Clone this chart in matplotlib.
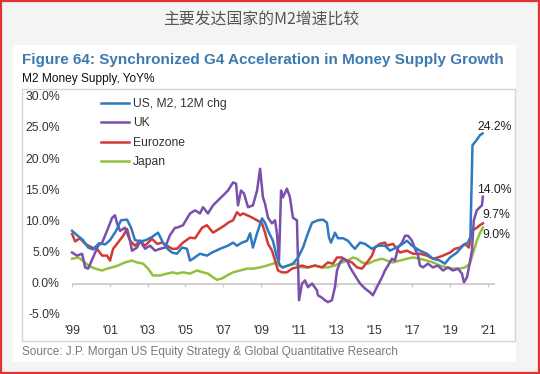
import matplotlib
matplotlib.use("Agg")
from matplotlib import pyplot as plt
from matplotlib.patches import Rectangle

plt.rcParams['font.family'] = ['Liberation Sans', 'DejaVu Sans']

# ---- data (decimal years, YoY %) ----
us_years = [1999.00, 1999.26, 1999.58, 1999.85, 2000.11, 2000.43, 2000.75, 2001.01, 2001.33, 2001.59,
            2001.91, 2002.12, 2002.33, 2002.65, 2002.91, 2003.23, 2003.55, 2003.81, 2004.08, 2004.29,
            2004.55, 2004.82, 2005.08, 2005.24, 2005.40, 2005.77, 2006.14, 2006.41, 2006.83, 2007.25,
            2007.52, 2007.73, 2007.99, 2008.26, 2008.42, 2008.57, 2008.79, 2009.05, 2009.21, 2009.37,
            2009.63, 2009.84, 2010.00, 2010.16, 2010.43, 2010.69, 2010.96, 2011.22, 2011.48, 2011.70,
            2012.01, 2012.28, 2012.49, 2012.59, 2012.70, 2012.81, 2012.91, 2013.07, 2013.34, 2013.60,
            2013.81, 2013.97, 2014.24, 2014.50, 2014.87, 2015.19, 2015.56, 2015.82, 2016.35, 2016.72,
            2016.99, 2017.41, 2017.78, 2018.10, 2018.47, 2018.73, 2019.00, 2019.37, 2019.68, 2019.95,
            2020.08, 2020.19, 2020.40, 2020.58, 2020.72]
us_vals = [8.5, 7.8, 7.0, 5.8, 5.5, 6.5, 6.3, 7.0, 8.5, 10.2,
           10.3, 9.0, 7.0, 6.8, 7.0, 7.5, 8.2, 6.6, 5.5, 5.0,
           4.8, 5.8, 5.6, 3.7, 4.0, 4.8, 4.5, 5.0, 5.6, 6.1,
           6.6, 6.1, 6.6, 6.9, 8.1, 5.8, 8.1, 10.5, 9.8, 8.5,
           6.9, 4.2, 2.9, 2.6, 2.9, 3.2, 4.2, 5.8, 8.1, 9.8,
           10.2, 10.3, 9.8, 7.5, 6.6, 7.4, 8.2, 7.3, 7.3, 6.9,
           6.1, 5.6, 6.6, 6.4, 5.6, 6.1, 6.1, 5.3, 6.1, 6.9,
           6.1, 5.3, 4.8, 4.0, 3.7, 3.2, 4.2, 5.0, 6.1, 6.6,
           7.5, 22.3, 23.1, 23.9, 24.2]

uk_years = [1999.00, 1999.26, 1999.53, 1999.69, 1999.85, 2000.11, 2000.38, 2000.59, 2000.85, 2001.12,
            2001.27, 2001.38, 2001.54, 2001.80, 2002.07, 2002.17, 2002.44, 2002.60, 2002.86, 2003.13,
            2003.39, 2003.66, 2003.92, 2004.18, 2004.45, 2004.55, 2004.87, 2005.24, 2005.51, 2005.77,
            2005.93, 2006.19, 2006.46, 2006.72, 2006.99, 2007.25, 2007.52, 2007.68, 2007.78, 2007.94,
            2008.10, 2008.31, 2008.57, 2008.79, 2008.95, 2009.10, 2009.21, 2009.37, 2009.58, 2009.74,
            2009.84, 2009.95, 2010.06, 2010.16, 2010.37, 2010.53, 2010.69, 2010.90, 2011.01, 2011.17,
            2011.33, 2011.48, 2011.70, 2011.96, 2012.01, 2012.23, 2012.38, 2012.54, 2012.75, 2012.91,
            2013.02, 2013.18, 2013.34, 2013.55, 2013.71, 2013.97, 2014.24, 2014.50, 2014.76, 2014.92,
            2015.13, 2015.40, 2015.56, 2015.72, 2015.93, 2016.09, 2016.25, 2016.46, 2016.62, 2016.78,
            2016.99, 2017.15, 2017.31, 2017.41, 2017.57, 2017.83, 2018.10, 2018.36, 2018.63, 2018.89,
            2019.16, 2019.42, 2019.63, 2019.74, 2019.90, 2020.00, 2020.16, 2020.26, 2020.42, 2020.58,
            2020.69, 2020.74]
uk_vals = [5.0, 4.5, 4.8, 2.6, 2.4, 4.2, 6.1, 6.6, 8.5, 10.6,
           11.0, 9.7, 8.5, 9.0, 6.9, 5.3, 5.8, 6.9, 5.6, 6.1,
           5.3, 5.6, 5.8, 7.8, 9.0, 9.0, 9.4, 11.3, 11.8, 11.3,
           12.3, 11.3, 12.6, 13.4, 14.2, 15.0, 16.3, 16.1, 12.6, 15.0,
           14.5, 12.3, 12.6, 15.0, 18.5, 13.9, 12.9, 10.6, 9.7, 10.2,
           8.1, 3.7, 15.0, 13.9, 15.3, 13.9, 10.6, 10.2, -2.7, 0.0,
           0.5, -0.6, 0.0, -1.1, -1.9, -2.3, -2.7, -3.0, -2.7, -0.6,
           2.1, 3.4, 4.0, 3.7, 2.6, 1.3, 0.0, -0.8, -1.4, -1.9,
           -0.6, 1.0, 2.1, 2.9, 4.0, 3.7, 5.8, 6.6, 7.7, 7.7,
           6.9, 5.6, 4.5, 2.9, 2.6, 3.2, 2.6, 2.9, 2.1, 2.6,
           2.1, 2.4, 1.6, 0.2, 1.0, 2.6, 5.3, 10.2, 11.8, 12.3,
           12.6, 14.0]

ez_years = [1999.00, 1999.16, 1999.42, 1999.69, 2000.06, 2000.32, 2000.59, 2000.85, 2001.01, 2001.17,
            2001.43, 2001.70, 2001.91, 2002.07, 2002.33, 2002.60, 2002.86, 2003.23, 2003.50, 2003.76,
            2004.03, 2004.29, 2004.55, 2004.87, 2005.24, 2005.51, 2005.88, 2006.14, 2006.46, 2006.83,
            2007.09, 2007.25, 2007.52, 2007.73, 2007.89, 2008.05, 2008.42, 2008.79, 2009.05, 2009.21,
            2009.37, 2009.58, 2009.74, 2009.90, 2010.11, 2010.37, 2010.64, 2010.90, 2011.17, 2011.48,
            2011.85, 2012.23, 2012.54, 2012.81, 2013.02, 2013.28, 2013.55, 2013.81, 2014.08, 2014.34,
            2014.61, 2014.87, 2015.03, 2015.29, 2015.56, 2015.66, 2015.98, 2016.35, 2016.72, 2017.04,
            2017.41, 2017.78, 2018.10, 2018.36, 2018.63, 2019.00, 2019.26, 2019.53, 2019.79, 2020.00,
            2020.16, 2020.42, 2020.58, 2020.74]
ez_vals = [8.0, 6.8, 7.3, 6.4, 5.8, 5.6, 4.5, 4.5, 3.7, 5.6,
           6.6, 7.7, 8.8, 6.9, 6.1, 6.9, 6.1, 7.2, 6.4, 6.6,
           6.1, 5.6, 5.6, 6.6, 7.4, 7.3, 9.0, 9.4, 8.2, 8.9,
           9.4, 9.8, 10.2, 11.5, 11.0, 11.3, 10.8, 10.2, 9.7, 8.2,
           6.4, 5.3, 3.7, 2.1, 1.8, 1.8, 2.4, 2.6, 2.9, 2.6,
           2.9, 2.6, 3.4, 3.2, 4.2, 4.2, 3.7, 3.4, 2.6, 2.4,
           3.4, 4.5, 5.8, 6.4, 6.6, 6.1, 6.4, 5.0, 5.3, 4.8,
           4.8, 4.5, 4.0, 4.2, 4.5, 5.0, 5.6, 5.8, 6.4, 5.8,
           8.5, 9.0, 9.4, 9.7]

jp_years = [1999.00, 1999.32, 1999.58, 1999.85, 2000.22, 2000.59, 2000.85, 2001.12, 2001.43, 2001.80,
            2002.17, 2002.44, 2002.76, 2003.02, 2003.28, 2003.66, 2004.03, 2004.34, 2004.55, 2004.87,
            2005.24, 2005.61, 2005.93, 2006.19, 2006.46, 2006.67, 2006.93, 2007.20, 2007.52, 2007.89,
            2008.26, 2008.57, 2008.95, 2009.32, 2009.63, 2009.84, 2010.11, 2010.43, 2010.80, 2011.17,
            2011.48, 2011.85, 2012.23, 2012.54, 2012.91, 2013.28, 2013.60, 2013.87, 2014.08, 2014.34,
            2014.66, 2015.03, 2015.40, 2015.66, 2015.98, 2016.35, 2016.72, 2017.04, 2017.41, 2017.78,
            2018.10, 2018.47, 2018.84, 2019.16, 2019.53, 2019.79, 2020.05, 2020.21, 2020.42, 2020.58,
            2020.74]
jp_vals = [4.0, 4.2, 3.7, 2.9, 2.4, 2.1, 2.4, 2.6, 2.9, 3.4,
           3.7, 3.4, 3.2, 2.4, 1.3, 1.3, 1.6, 1.8, 1.6, 1.8,
           1.6, 2.1, 1.8, 1.6, 1.0, 0.6, 0.8, 1.3, 1.8, 2.1,
           2.4, 2.4, 2.6, 2.9, 3.2, 3.4, 2.6, 2.9, 3.2, 2.6,
           2.6, 2.9, 2.6, 2.6, 2.9, 3.4, 3.7, 4.2, 4.0, 3.4,
           3.2, 3.7, 4.0, 3.7, 3.4, 3.7, 4.0, 4.2, 4.0, 3.7,
           3.4, 2.9, 2.6, 2.4, 2.4, 2.6, 3.2, 4.8, 6.9, 8.1,
           9.0]

series_names = ['US, M2, 12M chg', 'UK', 'Eurozone', 'Japan']
series_colors = ['#2f78c2', '#7a4fae', '#d23a36', '#93c03c']
end_labels = ['24.2%', '14.0%', '9.7%', '9.0%']
end_label_pos = [(2020.43, 25.2), (2020.43, 15.1), (2020.69, 11.0), (2020.69, 7.8)]

tick_years = [1999, 2001, 2003, 2005, 2007, 2009, 2011, 2013, 2015, 2017, 2019, 2021]
tick_labels = ["'99", "'01", "'03", "'05", "'07", "'09", "'11", "'13", "'15", "'17", "'19", "'21"]
y_ticks = [30, 25, 20, 15, 10, 5, 0, -5]

# ---- figure ----
fig = plt.figure(figsize=(5.4, 3.74), dpi=100, facecolor='#f4f4f4')
W, H = 540.0, 374.0

# white panel (behind the axes)
fig.patches.append(Rectangle((13 / W, 1 - 362 / H), (516 - 13) / W, (362 - 45) / H,
                             transform=fig.transFigure, facecolor='white', edgecolor='none', zorder=-5))
# red outer border
fig.patches.append(Rectangle((0.002, 0.003), 0.996, 0.994, transform=fig.transFigure,
                             facecolor='none', edgecolor='#e03434', lw=1.6, zorder=5))

fig.text(261 / W, 1 - 19 / H, '主要发达国家的M2增速比较', ha='center', va='center',
         fontsize=11.4, color='#555555', family=['Noto Sans CJK SC', 'DejaVu Sans'])
fig.text(22 / W, 1 - 60 / H, 'Figure 64: Synchronized G4 Acceleration in Money Supply Growth',
         ha='left', va='center', fontsize=11, fontweight='bold', color='#3b7ab0')
fig.text(22 / W, 1 - 79 / H, 'M2 Money Supply, YoY%', ha='left', va='center',
         fontsize=8.6, color='#111111')
fig.text(22 / W, 1 - 352 / H,
         'Source: J.P. Morgan US Equity Strategy & Global Quantitative Research',
         ha='left', va='center', fontsize=8.5, color='#7a7a7a')

ax = fig.add_axes([22 / W, 1 - 341 / H, 493 / W, 252 / H])
ax.set_xlim(1996.35, 2022.44)
ax.set_ylim(-9.27, 31.37)
ax.set_facecolor('white')
for sp in ax.spines.values():
    sp.set_color('#d6d6d6')
    sp.set_linewidth(1.0)
ax.set_xticks([])
ax.set_yticks([])

# zero axis with small ticks
ax.hlines(0, tick_years[0], 2021.38, color='#cccccc', lw=1.3, zorder=1)
ax.vlines(tick_years, -0.6, 0, color='#cccccc', lw=1.0, zorder=1)

all_x = [us_years, uk_years, ez_years, jp_years]
all_y = [us_vals, uk_vals, ez_vals, jp_vals]
lines = {}
for i in [3, 2, 1, 0]:
    ln, = ax.plot(all_x[i], all_y[i], color=series_colors[i], lw=1.8,
                  solid_joinstyle='round', zorder=3)
    lines[i] = ln

leg = ax.legend([lines[i] for i in range(4)], series_names, loc='upper left',
                bbox_to_anchor=((101 - 22) / 493.0, (341 - 98) / 252.0), frameon=False,
                fontsize=8.7, handlelength=2.3, handletextpad=0.35, labelspacing=0.62,
                borderpad=0, borderaxespad=0)
for t in leg.get_texts():
    t.set_color('#333333')

ytr = ax.get_yaxis_transform()
for v in y_ticks:
    ax.text((60 - 22) / 493.0, v, '%.1f%%' % v, transform=ytr, ha='right', va='center',
            fontsize=8.8, color='#333333')

xtr = ax.get_xaxis_transform()
for yr, lab in zip(tick_years, tick_labels):
    ax.text(yr, (341 - 331) / 252.0, lab, transform=xtr, ha='center', va='center',
            fontsize=8.8, color='#333333')

for lab, (x, y) in zip(end_labels, end_label_pos):
    ax.text(x, y, lab, ha='left', va='center', fontsize=8.8, color='#222222', zorder=6)

fig.savefig('out.png', dpi=100, facecolor=fig.get_facecolor())
